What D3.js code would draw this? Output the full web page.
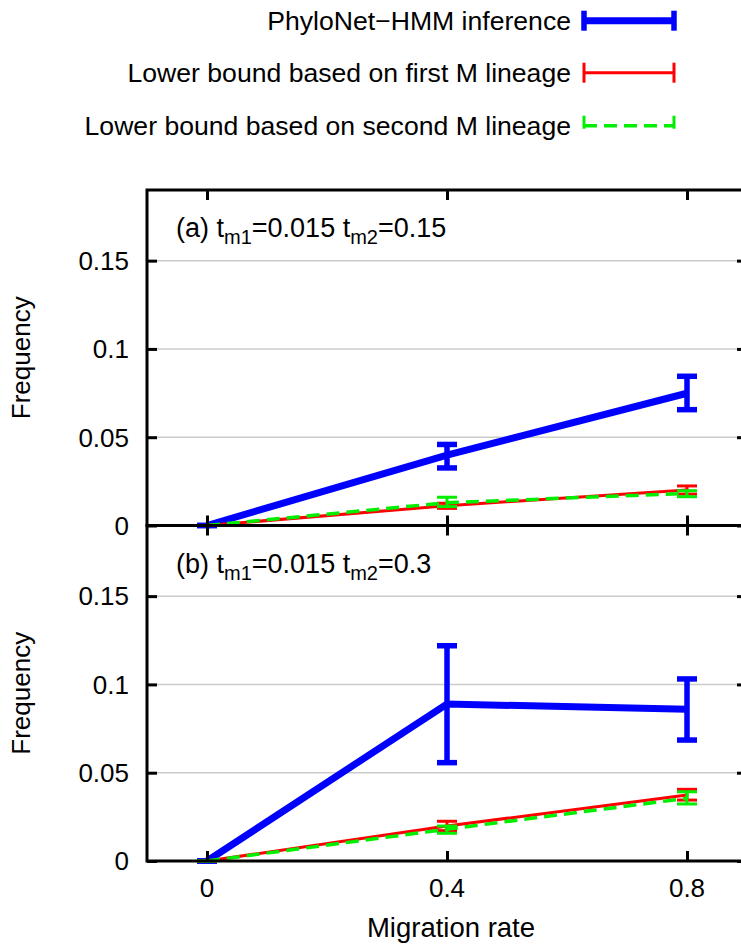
<!DOCTYPE html>
<html>
<head>
<meta charset="utf-8">
<script src="https://cdn.jsdelivr.net/npm/d3@7"></script>
<style>
  html, body { margin: 0; padding: 0; background: #fff; }
  svg { display: block; font-family: "Liberation Sans", Arial, Helvetica, sans-serif; }
</style>
</head>
<body>
<svg id="chart" width="741" height="944"></svg>
<script>
// ---------------- data ----------------
const migrationRates = [0, 0.4, 0.8];
const xTickValues = [0, 0.4, 0.8];
const xTickLabels = ["0", "0.4", "0.8"];
const yTickValues = [0, 0.05, 0.1, 0.15];
const yTickLabels = ["0", "0.05", "0.1", "0.15"];

const seriesNames = ["PhyloNet\u2212HMM inference", "Lower bound based on first M lineage", "Lower bound based on second M lineage"];

// Panel (a) t_m1=0.015 t_m2=0.15
const aHmmMean = [0, 0.0399, 0.0749];
const aHmmLow  = [0, 0.0326, 0.0656];
const aHmmHigh = [0, 0.0459, 0.0845];
const aFirstMean = [0, 0.0112, 0.0201];
const aFirstLow  = [0, 0.0097, 0.0178];
const aFirstHigh = [0, 0.0126, 0.0224];
const aSecondMean = [0, 0.0129, 0.0182];
const aSecondLow  = [0, 0.0107, 0.0163];
const aSecondHigh = [0, 0.0160, 0.0197];

// Panel (b) t_m1=0.015 t_m2=0.3
const bHmmMean = [0, 0.0889, 0.0859];
const bHmmLow  = [0, 0.0557, 0.0685];
const bHmmHigh = [0, 0.1219, 0.1031];
const bFirstMean = [0, 0.0198, 0.0374];
const bFirstLow  = [0, 0.0172, 0.0345];
const bFirstHigh = [0, 0.0225, 0.0406];
const bSecondMean = [0, 0.0180, 0.0355];
const bSecondLow  = [0, 0.0157, 0.0323];
const bSecondHigh = [0, 0.0198, 0.0392];

const panelLetters = ["(a)", "(b)"];
const panelTm1 = ["0.015", "0.015"];
const panelTm2 = ["0.15", "0.3"];

const xTitle = "Migration rate";
const yTitle = "Frequency";

// ---------------- styles ----------------
const seriesStyles = [
  { color: "#0000ff", width: 7, barWidth: 5.5, dash: null },
  { color: "#ff0000", width: 3, barWidth: 3, dash: null },
  { color: "#00ee00", width: 3.5, barWidth: 3, dash: "13,7" }
];

const panels = [
  { top: 190, bottom: 525.5,
    series: [
      { mean: aHmmMean, low: aHmmLow, high: aHmmHigh },
      { mean: aFirstMean, low: aFirstLow, high: aFirstHigh },
      { mean: aSecondMean, low: aSecondLow, high: aSecondHigh }
    ] },
  { top: 525.5, bottom: 861,
    series: [
      { mean: bHmmMean, low: bHmmLow, high: bHmmHigh },
      { mean: bFirstMean, low: bFirstLow, high: bFirstHigh },
      { mean: bSecondMean, low: bSecondLow, high: bSecondHigh }
    ] }
];

const svg = d3.select("#chart");
const FS = 26;
const LEGFS = 26.6;
const LBLFS = 27;
const SUBFS = 20;
const XTFS = 27.5;
const plotLeft = 147, plotRight = 747;
const x = d3.scaleLinear().domain([-0.1, 0.9]).range([plotLeft, plotRight]);
const capHalf = 10;
const tickLen = 10;

panels.forEach((p, pi) => {
  const y = d3.scaleLinear().domain([0, 0.19]).range([p.bottom, p.top]);
  const g = svg.append("g");

  // grid lines
  g.selectAll("line.grid").data(yTickValues.filter(v => v > 0)).enter()
    .append("line")
    .attr("x1", plotLeft).attr("x2", plotRight)
    .attr("y1", d => y(d)).attr("y2", d => y(d))
    .attr("stroke", "#cccccc").attr("stroke-width", 1.5);

  // series
  p.series.forEach((s, si) => {
    const st = seriesStyles[si];
    const pts = migrationRates.map((m, i) => ({ x: m, mean: s.mean[i], low: s.low[i], high: s.high[i] }));
    const line = d3.line().x(d => x(d.x)).y(d => y(d.mean));
    const sg = g.append("g");
    sg.append("path").datum(pts).attr("d", line)
      .attr("fill", "none").attr("stroke", st.color).attr("stroke-width", st.width)
      .attr("stroke-dasharray", st.dash).attr("stroke-linejoin", "miter");
    const eb = sg.selectAll("g.eb").data(pts).enter().append("g");
    eb.append("line")
      .attr("x1", d => x(d.x)).attr("x2", d => x(d.x))
      .attr("y1", d => y(d.low)).attr("y2", d => y(d.high))
      .attr("stroke", st.color).attr("stroke-width", st.barWidth);
    eb.append("line")
      .attr("x1", d => x(d.x) - capHalf).attr("x2", d => x(d.x) + capHalf)
      .attr("y1", d => y(d.low)).attr("y2", d => y(d.low))
      .attr("stroke", st.color).attr("stroke-width", st.barWidth);
    eb.append("line")
      .attr("x1", d => x(d.x) - capHalf).attr("x2", d => x(d.x) + capHalf)
      .attr("y1", d => y(d.high)).attr("y2", d => y(d.high))
      .attr("stroke", st.color).attr("stroke-width", st.barWidth);
  });

  // y axes (left and mirrored right)
  const yLeft = d3.axisRight(y).tickValues(yTickValues).tickSize(tickLen).tickFormat("");
  const yAxisG = g.append("g").attr("transform", `translate(${plotLeft},0)`).call(yLeft);
  yAxisG.select(".domain").remove();
  yAxisG.selectAll(".tick line").attr("stroke", "#000").attr("stroke-width", 3);
  const yRight = d3.axisLeft(y).tickValues(yTickValues).tickSize(tickLen).tickFormat("");
  const yAxisR = g.append("g").attr("transform", `translate(${plotRight},0)`).call(yRight);
  yAxisR.select(".domain").remove();
  yAxisR.selectAll(".tick line").attr("stroke", "#000").attr("stroke-width", 3);

  // x ticks: bottom (inward up) and top (inward down)
  const xBottom = d3.axisTop(x).tickValues(xTickValues).tickSize(tickLen).tickFormat("");
  const xb = g.append("g").attr("transform", `translate(0,${p.bottom})`).call(xBottom);
  xb.select(".domain").remove();
  xb.selectAll(".tick line").attr("stroke", "#000").attr("stroke-width", 3);
  const xTop = d3.axisBottom(x).tickValues(xTickValues).tickSize(tickLen).tickFormat("");
  const xt = g.append("g").attr("transform", `translate(0,${p.top})`).call(xTop);
  xt.select(".domain").remove();
  xt.selectAll(".tick line").attr("stroke", "#000").attr("stroke-width", 3);

  // border
  g.append("rect")
    .attr("x", plotLeft).attr("y", p.top)
    .attr("width", plotRight - plotLeft).attr("height", p.bottom - p.top)
    .attr("fill", "none").attr("stroke", "#000").attr("stroke-width", 3);

  // y tick labels
  g.selectAll("text.ytl").data(yTickValues).enter().append("text")
    .attr("x", 129).attr("y", d => y(d))
    .attr("dy", "0.36em")
    .attr("text-anchor", "end")
    .attr("font-size", FS)
    .text((d, i) => yTickLabels[i]);

  // y title
  g.append("text")
    .attr("transform", `translate(30,${(p.top + p.bottom) / 2}) rotate(-90)`)
    .attr("text-anchor", "middle")
    .attr("font-size", FS)
    .text(yTitle);

  // panel label with subscripts
  const lbl = g.append("text")
    .attr("x", 176).attr("y", p.top + 47)
    .attr("font-size", LBLFS);
  lbl.append("tspan").text(panelLetters[pi] + " t");
  lbl.append("tspan").attr("font-size", SUBFS).attr("dy", 7).text("m1");
  lbl.append("tspan").attr("dy", -7).text("=" + panelTm1[pi] + " t");
  lbl.append("tspan").attr("font-size", SUBFS).attr("dy", 7).text("m2");
  lbl.append("tspan").attr("dy", -7).text("=" + panelTm2[pi]);
});

// x tick labels under bottom panel
svg.selectAll("text.xtl").data(xTickValues).enter().append("text")
  .attr("x", d => x(d)).attr("y", 897)
  .attr("text-anchor", "middle")
  .attr("font-size", FS)
  .text((d, i) => xTickLabels[i]);

// x title
svg.append("text")
  .attr("x", x(0.4) + 4).attr("y", 937)
  .attr("text-anchor", "middle")
  .attr("font-size", XTFS)
  .text(xTitle);

// legend
const legendRows = [20.7, 72.7, 125.7];
const legX1 = 584, legX2 = 674, legTextX = 571;
seriesNames.forEach((name, i) => {
  const st = seriesStyles[i];
  const cy = legendRows[i];
  const lg = svg.append("g");
  lg.append("text")
    .attr("x", legTextX).attr("y", cy).attr("dy", "0.36em")
    .attr("text-anchor", "end").attr("font-size", LEGFS)
    .text(name);
  lg.append("line")
    .attr("x1", legX1).attr("x2", legX2).attr("y1", cy).attr("y2", cy)
    .attr("stroke", st.color).attr("stroke-width", st.width)
    .attr("stroke-dasharray", st.dash);
  [legX1, legX2].forEach(cx => {
    lg.append("line")
      .attr("x1", cx).attr("x2", cx).attr("y1", cy - capHalf).attr("y2", cy + capHalf)
      .attr("stroke", st.color).attr("stroke-width", i === 0 ? 5.5 : st.barWidth)
      .attr("stroke-dasharray", st.dash);
  });
});
</script>
</body>
</html>
